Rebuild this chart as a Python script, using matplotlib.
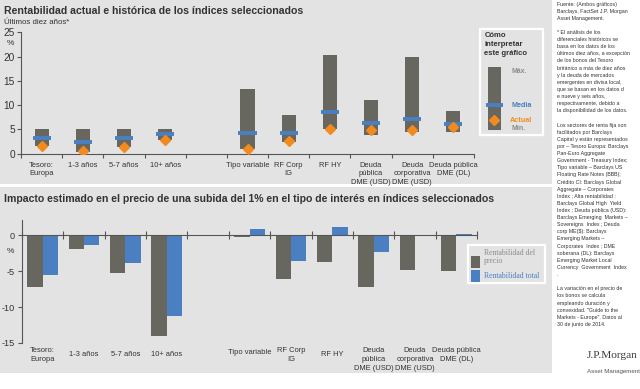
import matplotlib.pyplot as plt
import matplotlib.transforms as mtransforms
from matplotlib.patches import Rectangle
import numpy as np

plt.rcParams['font.family'] = ['Liberation Sans', 'DejaVu Sans']
plt.rcParams['axes.unicode_minus'] = False

W, H = 640, 389
GREY_BAR = '#67675f'
BLUE = '#4a80c2'
ORANGE = '#f28a1e'
PANEL = '#e3e3e3'
TXT = '#333333'
LIGHT_TXT = '#8c8c8c'

# --- data -------------------------------------------------------------
labels = ["Tesoro:\nEuropa", "1-3 años", "5-7 años", "10+ años", "",
          "Tipo variable", "RF Corp\nIG", "RF HY", "Deuda\npública\nDME (USD)",
          "Deuda\ncorporativa\nDME (USD)", "Deuda pública\nDME (DL)"]
nan = np.nan
yield_max = [5.0, 5.0, 5.0, 5.0, nan, 13.4, 8.0, 20.4, 11.0, 19.9, 8.8]
yield_min = [1.6, 0.4, 1.4, 2.9, nan, 1.0, 2.5, 5.1, 3.9, 4.4, 4.5]
yield_avg = [3.3, 2.4, 3.2, 4.0, nan, 4.3, 4.3, 8.5, 6.3, 7.1, 6.2]
yield_now = [1.6, 0.5, 1.4, 2.9, nan, 1.0, 2.6, 5.1, 4.9, 4.9, 5.4]

price_ret = [-7.2, -1.9, -5.3, -14.0, nan, -0.2, -6.1, -3.8, -7.2, -4.9, -5.0]
total_ret = [-5.6, -1.4, -3.9, -11.2, nan, 0.8, -3.6, 1.15, -2.4, -0.1, 0.2]

top_yticks = [0, 5, 10, 15, 20, 25]
bot_yticks = [0, -5, -10, -15]

side_note = """Fuente: (Ambos gráficos)
Barclays, FactSet J.P. Morgan
Asset Management.

* El análisis de los
diferenciales históricos se
basa en los datos de los
últimos diez años, a excepción
de los bonos del Tesoro
británico a más de diez años
y la deuda de mercados
emergentes en divisa local,
que se basan en los datos d
e nueve y seis años,
respectivamente, debido a
la disponibilidad de los datos.

Los sectores de renta fija son
facilitados por Barclays
Capital y están representados
por – Tesoro Europa: Barclays
Pan-Euro Aggregate
Government - Treasury Index;
Tipo variable – Barclays US
Floating Rate Notes (BBB);
Crédito CI: Barclays Global
Aggregate – Corporates
Index ; Alta rentabilidad :
Barclays Global High  Yield
Index ; Deuda pública (USD):
Barclays Emerging  Markets –
Sovereigns  Index ; Deuda
corp ME($): Barclays
Emerging Markets –
Corporates  Index ; DME
soberana (DL): Barclays
Emerging Market Local
Currency  Government  Index
.

La variación en el precio de
los bonos se calcula
empleando duración y
convexidad. "Guide to the
Markets - Europe". Datos al
30 de junio de 2014."""


def rect(l, t, r, b):
    return [l / W, 1 - b / H, (r - l) / W, (b - t) / H]


fig = plt.figure(figsize=(W / 100, H / 100), dpi=100, facecolor='white')

# background / annotation layer in pixel coords
bg = fig.add_axes([0, 0, 1, 1], zorder=0)
bg.set_xlim(0, W)
bg.set_ylim(H, 0)
bg.axis('off')
bg.add_patch(Rectangle((0, 0), 552, 184, color=PANEL, lw=0))
bg.add_patch(Rectangle((0, 187), 552, 186, color=PANEL, lw=0))

x = np.arange(len(labels))
ok = ~np.isnan(yield_max)

# --- top chart --------------------------------------------------------
ax1 = fig.add_axes(rect(21, 32.3, 474, 153.7), zorder=1)
ax1.patch.set_alpha(0)
ymax = np.array(yield_max)
ymin = np.array(yield_min)
ax1.bar(x[ok], (ymax - ymin)[ok], bottom=ymin[ok], width=0.34, color=GREY_BAR, zorder=2)
ax1.hlines(np.array(yield_avg)[ok], x[ok] - 0.22, x[ok] + 0.22, color=BLUE, lw=2.8, zorder=3)
ax1.plot(x[ok], np.array(yield_now)[ok], ls='none', marker='D', ms=4.6,
         color=ORANGE, mec=ORANGE, zorder=4)
ax1.set_xlim(-0.5, 10.5)
ax1.set_ylim(0, 25)
ax1.set_yticks(top_yticks)
ax1.set_xticks(np.arange(-0.5, 11, 1))
ax1.set_xticklabels([])
for s in ['top', 'right']:
    ax1.spines[s].set_visible(False)
for s in ['left', 'bottom']:
    ax1.spines[s].set_color('#555555')
    ax1.spines[s].set_linewidth(0.8)
ax1.tick_params(axis='y', length=3, width=0.8, color='#555555', labelsize=7.3,
                labelcolor=TXT, pad=1.5)
ax1.tick_params(axis='x', length=3, width=0.8, color='#555555')

tr1 = mtransforms.blended_transform_factory(ax1.transData, bg.transData)
for xi, lab in zip(x, labels):
    ax1.text(xi, 161.5, lab, transform=tr1, ha='center', va='top',
             fontsize=5.4, color=TXT, linespacing=1.35)

bg.text(4, 11, "Rentabilidad actual e histórica de los índices seleccionados",
        fontsize=7.55, fontweight='bold', color=TXT, va='center')
bg.text(4, 22, "Últimos diez años*", fontsize=5.7, color=TXT, va='center')
bg.text(10, 43, "%", fontsize=6, color=TXT, ha='center', va='center')

# legend "how to read"
bg.add_patch(Rectangle((480, 29), 63, 106, facecolor=PANEL, edgecolor='white', lw=1.6))
bg.text(484.5, 32, "Cómo\ninterpretar\neste gráfico", fontsize=5.5, fontweight='bold',
        color=TXT, va='top', ha='left', linespacing=1.4)
bg.add_patch(Rectangle((487.7, 66.7), 13.3, 63.3, color=GREY_BAR, lw=0))
bg.plot([485.5, 503], [105, 105], color=BLUE, lw=2.8, solid_capstyle='butt')
bg.plot([494.3], [120], ls='none', marker='D', ms=4.6, color=ORANGE)
bg.text(512, 71, "Máx.", fontsize=5.0, fontweight='bold', color=LIGHT_TXT, va='center')
bg.text(512, 105, "Media", fontsize=5.2, fontweight='bold', color=BLUE, va='center')
bg.text(510, 120, "Actual", fontsize=5.2, fontweight='bold', color=ORANGE, va='center')
bg.text(512, 129, "Mín.", fontsize=5.0, fontweight='bold', color=LIGHT_TXT, va='center')

# --- bottom chart -----------------------------------------------------
ax2 = fig.add_axes(rect(22, 220, 477, 343), zorder=1)
ax2.patch.set_alpha(0)
pr = np.array(price_ret)
tt = np.array(total_ret)
ax2.bar(x[ok] - 0.185, pr[ok], width=0.37, color=GREY_BAR, zorder=2)
ax2.bar(x[ok] + 0.185, tt[ok], width=0.37, color=BLUE, zorder=2)
ax2.set_xlim(-0.5, 10.5)
ax2.set_ylim(-15, 2.1)
ax2.set_yticks(bot_yticks)
ax2.set_xticks(np.arange(-0.5, 11, 1))
ax2.set_xticklabels([])
ax2.spines['bottom'].set_position(('data', 0))
for s in ['top', 'right']:
    ax2.spines[s].set_visible(False)
for s in ['left', 'bottom']:
    ax2.spines[s].set_color('#555555')
    ax2.spines[s].set_linewidth(0.8)
ax2.spines['bottom'].set_zorder(3)
ax2.tick_params(axis='y', length=3, width=0.8, color='#555555', labelsize=6.6,
                labelcolor=TXT, pad=2.5)
ax2.tick_params(axis='x', direction='inout', length=6, width=0.8, color='#555555')

tr2 = mtransforms.blended_transform_factory(ax2.transData, bg.transData)
for xi, lab in zip(x, labels):
    n = lab.count("\n")
    y0 = 347.5 if n else 351.5
    if lab.startswith("Tipo"):
        y0 = 348.5
    ax2.text(xi, y0, lab, transform=tr2, ha='center', va='top',
             fontsize=5.4, color=TXT, linespacing=1.35)

bg.text(4, 199, "Impacto estimado en el precio de una subida del 1% en el tipo de "
        "interés en índices seleccionados", fontsize=7.55, fontweight='bold',
        color=TXT, va='center')
bg.text(10, 251, "%", fontsize=6, color=TXT, ha='center', va='center')

# legend bottom
bg.add_patch(Rectangle((468, 245), 77, 37.5, facecolor=PANEL, edgecolor='white', lw=1.6))
bg.add_patch(Rectangle((471, 255.5), 9.3, 12, color=GREY_BAR, lw=0))
bg.add_patch(Rectangle((471, 270), 9.3, 12, color=BLUE, lw=0))
bg.text(484, 257, "Rentabilidad del\nprecio", family='Liberation Serif', fontsize=5.6,
        color=LIGHT_TXT, va='center', linespacing=1.05)
bg.text(484, 276, "Rentabilidad total", family='Liberation Serif', fontsize=5.6,
        color=BLUE, va='center')

# --- side notes and logo ---------------------------------------------
bg.text(557, 1.5, side_note, fontsize=3.8, color=TXT, va='top', ha='left',
        linespacing=1.53)
bg.text(612.5, 356, "J.P.Morgan", family='Liberation Serif', fontsize=8.2,
        color='#3a3a3a', ha='center', va='center')
bg.text(613, 372, "Asset Management", fontsize=4.4, color='#555555',
        ha='center', va='center')

fig.savefig("out.png", dpi=100, facecolor=fig.get_facecolor())
